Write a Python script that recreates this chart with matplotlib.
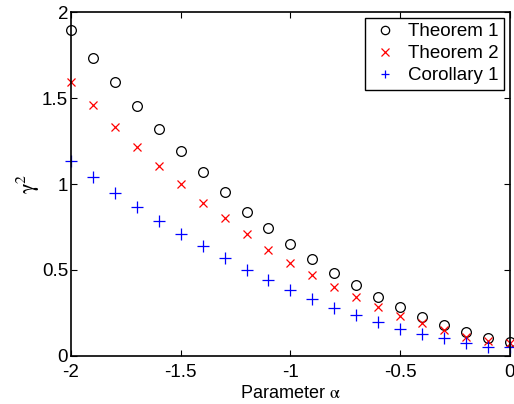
import matplotlib
matplotlib.use("Agg")
from matplotlib import pyplot as plt

plt.rcParams['font.family'] = ['Liberation Sans', 'DejaVu Sans']
plt.rcParams['mathtext.fontset'] = 'stix'

alpha = [-2.0, -1.9, -1.8, -1.7, -1.6, -1.5, -1.4, -1.3, -1.2, -1.1, -1.0,
         -0.9, -0.8, -0.7, -0.6, -0.5, -0.4, -0.3, -0.2, -0.1, 0.0]
theorem1 = [1.895, 1.733, 1.593, 1.453, 1.320, 1.190, 1.070, 0.953, 0.837, 0.744, 0.651,
            0.564, 0.483, 0.413, 0.343, 0.285, 0.227, 0.180, 0.140, 0.105, 0.081]
theorem2 = [1.595, 1.457, 1.333, 1.217, 1.105, 0.998, 0.890, 0.800, 0.710, 0.618, 0.543,
            0.469, 0.401, 0.341, 0.283, 0.233, 0.190, 0.151, 0.112, 0.089, 0.077]
corollary1 = [1.135, 1.042, 0.949, 0.866, 0.785, 0.709, 0.640, 0.570, 0.500, 0.440, 0.384,
              0.331, 0.281, 0.238, 0.196, 0.159, 0.126, 0.103, 0.074, 0.054, 0.050]

fig = plt.figure(figsize=(5.14, 4.04), dpi=100)
ax = fig.add_axes([0.138, 0.119, 0.854, 0.851])

ax.plot(alpha, theorem1, 'o', mfc='none', mec='black', ms=7, mew=0.9, label='Theorem 1', clip_on=False)
ax.plot(alpha, theorem2, 'x', color='red', ms=6, mew=0.9, label='Theorem 2', clip_on=False)
ax.plot(alpha, corollary1, '+', color='blue', ms=8, mew=0.9, label='Corollary 1', clip_on=False)

ax.set_xlim(-2, 0)
ax.set_ylim(0, 2)
ax.set_xticks([-2, -1.5, -1, -0.5, 0])
ax.set_xticklabels(['-2', '-1.5', '-1', '-0.5', '0'])
ax.set_yticks([0, 0.5, 1, 1.5, 2])
ax.set_yticklabels(['0', '0.5', '1', '1.5', '2'])
ax.tick_params(direction='in', top=True, right=True, labelsize=13.5, length=4, width=0.8)
ax.tick_params(axis='x', pad=6)
ax.tick_params(axis='y', pad=2)
for s in ax.spines.values():
    s.set_linewidth(1.2)

ax.set_xlabel(r'Parameter $\mathrm{\alpha}$', fontsize=13, labelpad=3)
ax.set_ylabel(r'$\mathrm{\gamma}^2$', fontsize=16, labelpad=0)

leg = ax.legend(loc='upper right', numpoints=1, fontsize=13.5, fancybox=False,
                edgecolor='black', framealpha=1, borderaxespad=0.3,
                handlelength=1.5, handletextpad=0.5, labelspacing=0.25, borderpad=0.3)
leg.get_frame().set_linewidth(1.0)
for h in leg.legend_handles:
    h.set_markersize(6)

fig.savefig('out.png', dpi=100)
